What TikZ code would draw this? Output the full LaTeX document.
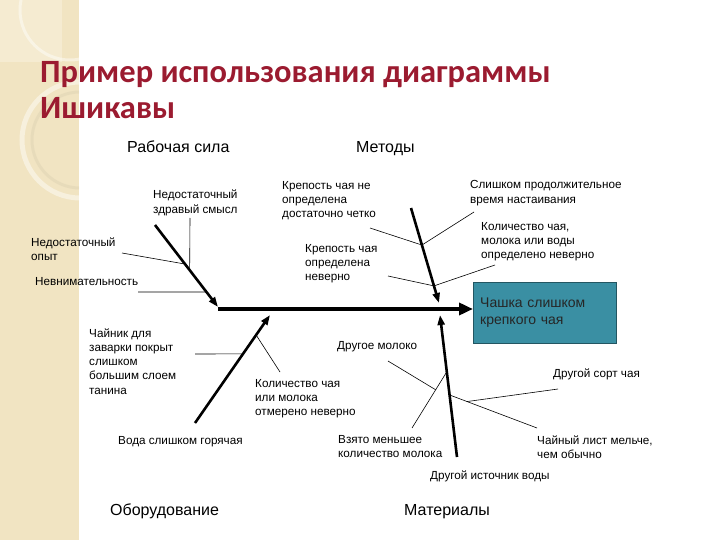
\documentclass[tikz,border=0pt]{standalone}
\usepackage{fontspec}
\setmainfont{Liberation Sans}
\newfontfamily\titlefont{Carlito}
\usetikzlibrary{arrows.meta,calc}
\definecolor{titlered}{RGB}{155,27,48}
\definecolor{stripbeige}{RGB}{241,228,194}
\definecolor{headteal}{RGB}{58,143,163}
\tikzset{
  cause/.style={anchor=base west, align=left, inner sep=0pt, font=\fontsize{11.7}{14.3}\selectfont},
  group/.style={anchor=base west, inner sep=0pt, font=\fontsize{16}{18}\selectfont},
  bone/.style={line width=2.6pt, -{Triangle[length=10pt,width=7pt]}},
  twig/.style={line width=0.6pt},
}
\begin{document}
\begin{tikzpicture}[x=1pt, y=-1pt]
\useasboundingbox (0,0) rectangle (720,540);
% left strip
\fill[stripbeige] (0,0) rectangle (79,540);
\begin{scope}
  \clip (0,0) rectangle (79,540);
  \fill[stripbeige!75!white] (0,0) rectangle (62,62);
  \draw[white, opacity=0.45, line width=3pt] (70,10) circle (50);
  \draw[white, opacity=0.45, line width=5pt] (80,140) circle (58);
  \draw[stripbeige!85!black, opacity=0.25, line width=3pt] (80,140) circle (48);
\end{scope}

% multi-line nodes sit on the baseline of their last line
\node[anchor=base west, inner sep=0pt, align=left, text=titlered,
      font=\titlefont\bfseries\fontsize{32.5}{36}\selectfont] (title) at (40,119)
      {Пример использования диаграммы\\Ишикавы};

% effect
\node[draw=headteal!60!black, fill=headteal, minimum width=143pt, minimum height=61pt,
      text width=129pt, inner xsep=7pt, align=left, anchor=north west,
      font=\fontsize{14}{17}\selectfont, text=black!85] (head) at (473,282)
      {Чашка слишком\\крепкого чая};
\coordinate (spineStart) at (218,309);
\draw[line width=3.6pt, -{Triangle[length=14pt,width=12pt]}] (spineStart) -- (spineStart -| head.west);

% groups
\node[group] (labour) at (127,153) {Рабочая сила};
\node[group] (methods) at (356,153) {Методы};
\node[group] (equipment) at (110,515) {Оборудование};
\node[group] (materials) at (404,515) {Материалы};

% bones
\coordinate (labTail) at (155,225);   \coordinate (labTip) at (218,307);
\coordinate (metTail) at (411,208);   \coordinate (metTip) at (439,303);
\coordinate (equTail) at (195,423);   \coordinate (equTip) at (270,315);
\coordinate (matTail) at (457,457);   \coordinate (matTip) at (440,315);
\draw[bone] (labTail) -- (labTip);
\draw[bone] (metTail) -- (metTip);
\draw[bone] (equTail) -- (equTip);
\draw[bone] (matTail) -- (matTip);

% causes: labour
\node[cause] (sense) at (153,213.3) {Недостаточный\\здравый смысл};
\node[cause] (experience) at (31,260.3) {Недостаточный\\опыт};
\node[cause] (attention) at (35,285) {Невнимательность};
\coordinate (senseFoot) at ($(labTail)!0.55!(labTip)$);
\coordinate (senseTop) at (190,218);
\coordinate (experienceEnd) at (122,253);
\coordinate (attentionEnd) at (138,292);
\draw[twig] (senseTop) -- (senseFoot);
\draw[twig] (experienceEnd) -- ($(labTail)!0.476!(labTip)$);
\draw[twig] (attentionEnd) -- ($(labTail)!0.817!(labTip)$);

% causes: methods
\node[cause] (vague) at (282,217.6) {Крепость чая не\\определена\\достаточно четко};
\node[cause] (steep) at (470,203.3) {Слишком продолжительное\\время настаивания};
\node[cause] (amount) at (481,258.6) {Количество чая,\\молока или воды\\определено неверно};
\node[cause] (wrong) at (305,280.6) {Крепость чая\\определена\\неверно};
\coordinate (metFootA) at ($(metTail)!0.39!(metTip)$);
\coordinate (metFootB) at ($(metTail)!0.82!(metTip)$);
\coordinate (vagueEnd) at (370,228);
\coordinate (steepEnd) at (474,212);
\coordinate (wrongEnd) at (388,276);
\coordinate (amountEnd) at (495,265);
\draw[twig] (vagueEnd) -- (metFootA) -- (steepEnd);
\draw[twig] (wrongEnd) -- (metFootB) -- (amountEnd);

% causes: equipment
\node[cause] (teapot) at (89,394.2) {Чайник для\\заварки покрыт\\слишком\\большим слоем\\танина};
\node[cause] (measured) at (255,415.6) {Количество чая\\или молока\\отмерено неверно};
\node[cause] (hot) at (118,444) {Вода слишком горячая};
\coordinate (teapotEnd) at (195,354);
\coordinate (measuredEnd) at (280,372);
\draw[twig] (teapotEnd) -- ($(equTail)!0.64!(equTip)$);
\draw[twig] (measuredEnd) -- ($(equTail)!0.815!(equTip)$);

% causes: materials
\node[cause] (milk) at (337,349) {Другое молоко};
\node[cause] (less) at (338,457.3) {Взято меньшее\\количество молока};
\node[cause] (sort) at (553,377) {Другой сорт чая};
\node[cause] (leaf) at (537,458.3) {Чайный лист мельче,\\чем обычно};
\node[cause] (water) at (430,479) {Другой источник воды};
\coordinate (lessEnd) at (412,428);
\coordinate (lessFoot) at ($(matTail)!0.6!(matTip)$);
\coordinate (milkEnd) at (388,361);
\coordinate (leafFoot) at ($(matTail)!0.437!(matTip)$);
\coordinate (leafEnd) at (537,428);
\coordinate (sortEnd) at (558,389);
\draw[twig] (lessEnd) -- (lessFoot);
\draw[twig] (milkEnd) -- ($(lessEnd)!0.68!(lessFoot)$);
\draw[twig] (leafFoot) -- (leafEnd);
\draw[twig] ($(leafFoot)!0.2!(leafEnd)$) -- (sortEnd);
\end{tikzpicture}
\end{document}
